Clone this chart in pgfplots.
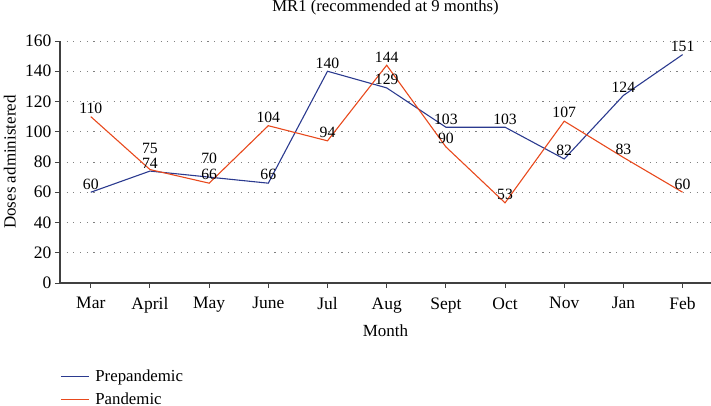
\documentclass[border=0pt]{standalone}
\usepackage{fontspec}
\setmainfont{Liberation Serif}
\usepackage{pgfplots}
\pgfplotsset{compat=1.18}
\definecolor{pre}{HTML}{2B3A8F}
\definecolor{pan}{HTML}{E8491D}
\begin{document}
\begin{tikzpicture}
\begin{axis}[
  name=ax,
  scale only axis,
  width=651bp, height=242bp,
  xmin=-0.52, xmax=10.48,
  ymin=0, ymax=160,
  ytick={0,20,...,160},
  xtick={0,...,10},
  xticklabels={Mar,April,May,June,Jul,Aug,Sept,Oct,Nov,Jan,Feb},
  axis x line*=bottom, axis y line*=left,
  axis line style={-, draw=black!75, line width=1.3pt},
  tick style={draw=black!75, line width=1pt},
  major tick length=5bp,
  tick align=outside,
  ymajorgrids,
  grid style={draw=gray, line width=0.9pt, dash pattern=on 1.1bp off 5.6bp},
  /pgf/number format/assume math mode=true,
  ticklabel style={font=\fontsize{17.5bp}{20bp}\selectfont},
  xticklabel style={yshift=-6bp},
  xlabel={Month},
  xlabel style={at={(axis description cs:0.5,-0.223)}, anchor=base, font=\fontsize{17bp}{19bp}\selectfont},
  ylabel={Doses administered},
  ylabel style={at={(axis description cs:-0.068,0.5)}, anchor=base, font=\fontsize{17bp}{19bp}\selectfont},
  nodes near coords,
  every node near coord/.append style={font=\fontsize{15.7bp}{18bp}\selectfont, black, anchor=south, inner sep=2.5bp},
  legend style={at={(axis description cs:0,-0.35)}, anchor=north west, draw=none, fill=none,
    inner sep=0pt, cells={anchor=west}, font=\fontsize{16.8bp}{19bp}\selectfont, row sep=6bp,
    /tikz/every odd column/.append style={column sep=4bp}},
  legend image code/.code={\draw[#1, line width=1.2pt] (0bp,0bp) -- (28bp,0bp);},
]
\addplot[pre, line width=1.1pt,
  nodes near coords style={yshift={ifthenelse(\coordindex==2,10,0)*1bp}}] coordinates {
  (0,60) (1,74) (2,70) (3,66) (4,140) (5,129) (6,103) (7,103) (8,82) (9,124) (10,151)
};
\addplot[pan, line width=1.1pt,
  nodes near coords style={yshift={ifthenelse(\coordindex==1,13,0)*1bp}}] coordinates {
  (0,110) (1,75) (2,66) (3,104) (4,94) (5,144) (6,90) (7,53) (8,107) (9,83) (10,60)
};
\legend{Prepandemic, Pandemic}
\end{axis}
\node[anchor=base, font=\fontsize{16.7bp}{19bp}\selectfont] at ([yshift=29bp]ax.north) {MR1 (recommended at 9 months)};
\pgfresetboundingbox
\path[use as bounding box] ([shift={(-60bp,-123bp)}]ax.south west) rectangle ([shift={(0bp,41bp)}]ax.north east);
\end{tikzpicture}
\end{document}
